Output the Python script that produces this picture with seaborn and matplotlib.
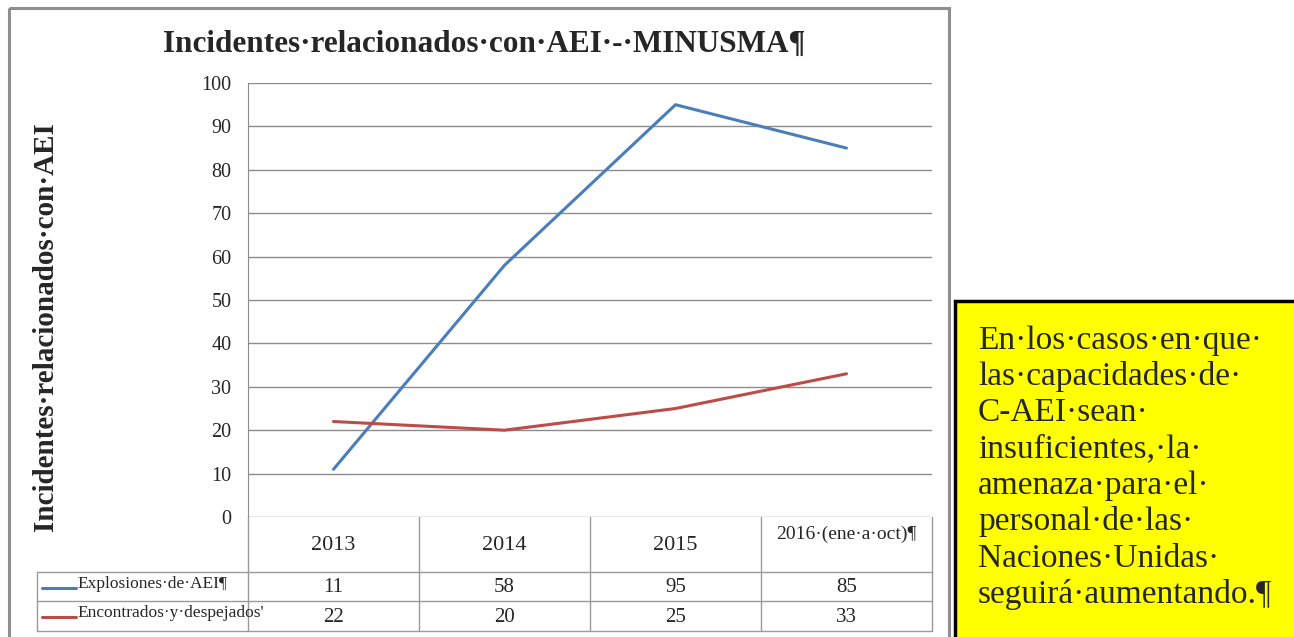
import pandas as pd
import seaborn as sns
import matplotlib.pyplot as plt
from matplotlib.lines import Line2D
from matplotlib.patches import Rectangle

# chart data
years = ["2013", "2014", "2015", "2016·(ene·a·oct)¶"]
explosiones = [11, 58, 95, 85]
encontrados = [22, 20, 25, 33]
series_names = ["Explosiones·de·AEI¶", "Encontrados·y·despejados'"]
series_colors = ["#4A7EBB", "#BE4B48"]
y_ticks = list(range(0, 101, 10))

title = "Incidentes·relacionados·con·AEI·-·MINUSMA¶"
y_label = "Incidentes·relacionados·con·AEI"
note = ("En·los·casos·en·que·\nlas·capacidades·de·\nC-AEI·sean·\ninsuficientes,·la·\n"
        "amenaza·para·el·\npersonal·de·las·\nNaciones·Unidas·\nseguirá·aumentando.¶")

df = pd.DataFrame({
    "year": years * 2,
    "value": explosiones + encontrados,
    "serie": [n for n in series_names for _ in years],
})

sns.set_style("white")
plt.rcParams['font.family'] = ['Liberation Serif', 'DejaVu Serif']

W, H = 1294, 637
fig = plt.figure(figsize=(W / 100, H / 100), dpi=100)

# overlay in pixel coordinates for frames / table
ov = fig.add_axes([0, 0, 1, 1])
ov.set_xlim(0, W)
ov.set_ylim(H, 0)
ov.axis("off")

# main plot area
left, right, top, bottom = 248, 932, 83, 517
ax = fig.add_axes([left / W, 1 - bottom / H, (right - left) / W, (bottom - top) / H])
ax.patch.set_alpha(0)

sns.lineplot(data=df, x="year", y="value", hue="serie", palette=series_colors,
             sort=False, linewidth=2.2, legend=False, ax=ax)

ax.set_xlim(-0.5, len(years) - 0.5)
ax.set_ylim(0, 100)
ax.set_yticks(y_ticks)
ax.tick_params(axis="y", length=0, pad=12, labelsize=14.5, labelcolor="#262626")
ax.set_xticks([])
ax.set_xlabel("")
ax.set_ylabel("")
ax.grid(axis="y", color="#8c8c8c", linewidth=1)
for s in ["top", "right", "bottom"]:
    ax.spines[s].set_visible(False)
ax.spines["left"].set_color("#8c8c8c")

# outer chart frame
ov.add_patch(Rectangle((9, 8), 940, 640, fill=False, edgecolor="#8f8f8f", linewidth=2.2))

# title and y label
ov.text(484, 44, title, ha="center", va="center", fontsize=22.5, fontweight="bold")
ov.text(46, 327, y_label, ha="center", va="center", rotation=90, fontsize=21, fontweight="bold")

# data table
grid_c = "#9a9a9a"
head_bot, row1_bot, row2_bot = 572, 601, 631
leg_left = 37
col_px = [ax.transData.transform((i, 0))[0] for i in range(len(years))]
edges = [ax.transData.transform((i - 0.5, 0))[0] for i in range(len(years) + 1)]

for x in edges:
    ov.plot([x, x], [bottom, row2_bot], color=grid_c, linewidth=1)
ov.plot([leg_left, leg_left], [head_bot, row2_bot], color=grid_c, linewidth=1)
for y in [head_bot, row1_bot, row2_bot]:
    ov.plot([leg_left, edges[-1]], [y, y], color=grid_c, linewidth=1)

for i, (cx, yr) in enumerate(zip(col_px, years)):
    if i == len(years) - 1:
        ov.text(cx, 534, yr, ha="center", va="center", fontsize=14)
    else:
        ov.text(cx, 545, yr, ha="center", va="center", fontsize=16)

rows = [explosiones, encontrados]
row_mid = [(head_bot + row1_bot) / 2, (row1_bot + row2_bot) / 2]
for vals, ym, name, c in zip(rows, row_mid, series_names, series_colors):
    for cx, v in zip(col_px, vals):
        ov.text(cx, ym + 1, str(v), ha="center", va="center", fontsize=15)
    ov.add_line(Line2D([42, 76], [ym + 1, ym + 1], color=c, linewidth=2.2))
    ov.text(77, ym - 3, name, ha="left", va="center", fontsize=12.5)

# yellow note box
ov.add_patch(Rectangle((955, 301), 345, 345, facecolor="#FFFF00", edgecolor="black", linewidth=2.5))
ov.text(978, 325, note, ha="left", va="top", fontsize=24, linespacing=1.24)

fig.savefig("out.png", dpi=100)
